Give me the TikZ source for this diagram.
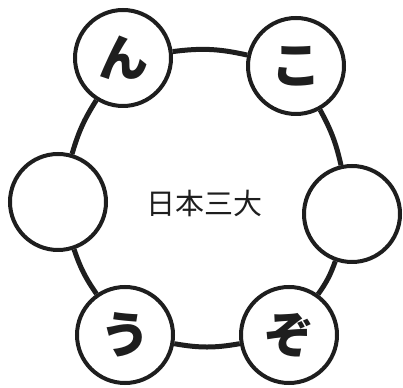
\documentclass[tikz,border=0pt]{standalone}
\usepackage{fontspec}
\newfontfamily\jp{Noto Sans CJK JP}
\usetikzlibrary{positioning}
\definecolor{ink}{HTML}{1E1E1E}
\tikzset{
  ball/.style={circle, draw=ink, line width=4pt, fill=white, minimum size=96pt, inner sep=0pt, font=\jp\bfseries\fontsize{50}{50}\selectfont, text=ink},
  conn/.style={draw=ink, line width=5pt},
  title/.style={font=\jp\fontsize{29}{29}\selectfont, text=ink}
}
\begin{document}
\begin{tikzpicture}[x=1pt,y=1pt]
\useasboundingbox (0,0) rectangle (403,387);
\node[ball] (n1) at (123,329) {ん};
\node[ball] (n2) at (296,321) {こ};
\node[ball] (n3) at (58,185) {};
\node[ball] (n4) at (352,173) {};
\node[ball] (n5) at (125,52) {う};
\node[ball] (n6) at (289,52) {ぞ};
\node[title] (t) at (204,184) {日本三大};
\draw[conn] (n1) to[bend left=10] (n2);
\draw[conn] (n2) to[bend left=8] (n4);
\draw[conn] (n4) to[bend left=8] (n6);
\draw[conn] (n6) to[bend left=10] (n5);
\draw[conn] (n5) to[bend left=8] (n3);
\draw[conn] (n3) to[bend left=8] (n1);
\end{tikzpicture}
\end{document}
